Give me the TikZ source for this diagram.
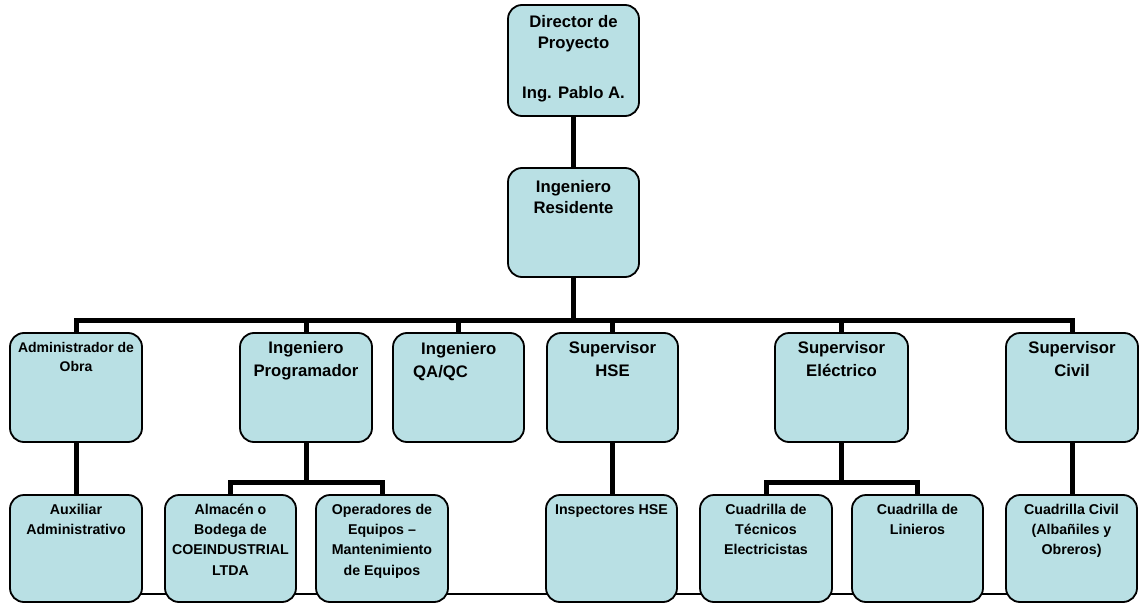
\documentclass[tikz,border=0pt]{standalone}
\usepackage{fontspec}
\setmainfont{Liberation Sans}
\usetikzlibrary{backgrounds}
\definecolor{boxfill}{RGB}{185,224,228}
\newcommand\tfix{\rule{0pt}{0.9em}}
\begin{document}
\begin{tikzpicture}[x=1pt,y=-1pt,
  box/.style={draw=black, line width=1.8pt, fill=boxfill, rounded corners=14pt, inner sep=0pt},
  conn/.style={draw=black, line width=5pt},
  thinconn/.style={draw=black, line width=1.8pt},
  txt/.style={anchor=north, align=center, inner sep=0pt},
  big/.style={font=\bfseries\fontsize{16.7}{23.5}\selectfont},
  small/.style={font=\bfseries\fontsize{14.2}{20.3}\selectfont}]
\useasboundingbox (0,0) rectangle (1142,604);

% level 0/1
\node[box, minimum width=131pt, minimum height=111pt] (dir) at (573.5,60.5) {};
\node[box, minimum width=131pt, minimum height=109pt] (res) at (573.5,222.5) {};
% level 2
\node[box, minimum width=132pt, minimum height=109pt] (adm) at (76,387.5) {};
\node[box, minimum width=132pt, minimum height=109pt] (prog) at (306,387.5) {};
\node[box, minimum width=131pt, minimum height=109pt] (qa) at (458.5,387.5) {};
\node[box, minimum width=131pt, minimum height=109pt] (hse) at (612.5,387.5) {};
\node[box, minimum width=133pt, minimum height=109pt] (ele) at (841.5,387.5) {};
\node[box, minimum width=132pt, minimum height=109pt] (civ) at (1072,387.5) {};
% level 3
\node[box, minimum width=132pt, minimum height=107pt] (aux) at (76,548.5) {};
\node[box, minimum width=131pt, minimum height=107pt] (alm) at (230.5,548.5) {};
\node[box, minimum width=132pt, minimum height=107pt] (ope) at (382,548.5) {};
\node[box, minimum width=131pt, minimum height=107pt] (insp) at (611.5,548.5) {};
\node[box, minimum width=132pt, minimum height=107pt] (tec) at (766,548.5) {};
\node[box, minimum width=131pt, minimum height=107pt] (lin) at (917.5,548.5) {};
\node[box, minimum width=131pt, minimum height=107pt] (ccv) at (1071.5,548.5) {};

\coordinate (bus) at (573.5,321);
\coordinate (subprog) at (306,483);
\coordinate (subele) at (841.5,483);

\begin{scope}[on background layer]
  \draw[conn] (dir.south) -- (res.north);
  \draw[conn] (res.south) -- (bus);
  \draw[conn] (adm.north) -- ++(0,-12) -| (civ.north);
  \foreach \n in {prog,qa,hse,ele} \draw[conn] (\n.north) -- (\n.north |- bus);
  \draw[conn] (adm.south) -- (aux.north);
  \draw[conn] (prog.south) -- (subprog);
  \draw[conn] (alm.north) -- ++(0,-12) -| (ope.north);
  \draw[conn] (hse.south) -- (hse.south |- insp.north);
  \draw[conn] (ele.south) -- (subele);
  \draw[conn] (tec.north) -- ++(0,-12) -| (lin.north);
  \draw[conn] (civ.south) -- (civ.south |- ccv.north);
  \draw[thinconn] ([yshift=9pt]aux.south) -- ([yshift=9pt]ccv.south);
\end{scope}

% texts
\node[txt, font=\bfseries\fontsize{16.7}{21}\selectfont] (dir-t) at ([yshift=-8pt]dir.north) {\tfix Director de\\Proyecto\\[29pt]Ing. Pablo A.};
\node[txt, font=\bfseries\fontsize{16.7}{21}\selectfont] (res-t) at ([yshift=-10pt]res.north) {\tfix Ingeniero\\Residente};
\node[txt, font=\bfseries\fontsize{14}{19}\selectfont] (adm-t) at ([yshift=-7.4pt]adm.north) {\tfix Administrador de\\Obra};
\node[txt, big] (prog-t) at ([yshift=-6pt]prog.north) {\tfix Ingeniero\\Programador};
\node[txt, big, anchor=north west, align=left] (qa-t) at (413,339) {\tfix\hspace*{8pt}Ingeniero\\QA/QC};
\node[txt, big] (hse-t) at ([yshift=-6pt]hse.north) {\tfix Supervisor\\HSE};
\node[txt, big] (ele-t) at ([yshift=-6pt]ele.north) {\tfix Supervisor\\Eléctrico};
\node[txt, big] (civ-t) at ([yshift=-6pt]civ.north) {\tfix Supervisor\\Civil};
\node[txt, small] (aux-t) at ([yshift=-7.2pt]aux.north) {\tfix Auxiliar\\Administrativo};
\node[txt, small] (alm-t) at ([yshift=-7.2pt]alm.north) {\tfix Almacén o\\Bodega de\\COEINDUSTRIAL\\LTDA};
\node[txt, small] (ope-t) at ([yshift=-7.2pt]ope.north) {\tfix Operadores de\\Equipos –\\Mantenimiento\\de Equipos};
\node[txt, small] (insp-t) at ([yshift=-7.2pt]insp.north) {\tfix Inspectores HSE};
\node[txt, small] (tec-t) at ([yshift=-7.2pt]tec.north) {\tfix Cuadrilla de\\Técnicos\\Electricistas};
\node[txt, small] (lin-t) at ([yshift=-7.2pt]lin.north) {\tfix Cuadrilla de\\Linieros};
\node[txt, small] (ccv-t) at ([yshift=-7.2pt]ccv.north) {\tfix Cuadrilla Civil\\(Albañiles y\\Obreros)};
\end{tikzpicture}
\end{document}
